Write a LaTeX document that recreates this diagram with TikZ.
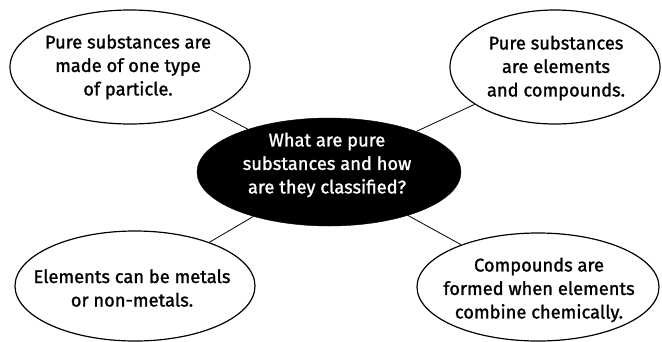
\documentclass[tikz,border=0pt]{standalone}
\usepackage{fontspec}
\setmainfont{Fira Sans}[FakeBold=1.3]
\newfontfamily\medfont{Fira Sans}[FakeBold=1.3]
\usetikzlibrary{shapes.geometric}
\begin{document}
\begin{tikzpicture}[x=1pt,y=-1pt,
  bubble/.style={ellipse,draw=black,line width=1.2pt,fill=white,inner sep=0pt},
  hub/.style={ellipse,fill=black,draw=black,inner sep=0pt},
  txt/.style={align=center,font=\medfont\fontsize{18.3}{23.5}\selectfont,inner sep=0pt},
  link/.style={draw=black,line width=0.8pt}]
\useasboundingbox (0,0) rectangle (662,341);
\node[hub,minimum width=264pt,minimum height=108pt] (c) at (329,172) {};
\node[bubble,minimum width=240pt,minimum height=114pt] (tl) at (130,67) {};
\node[bubble,minimum width=210pt,minimum height=114pt] (tr) at (555,67) {};
\node[bubble,minimum width=240pt,minimum height=110pt] (bl) at (135,286) {};
\node[bubble,minimum width=242pt,minimum height=108pt] (br) at (538,287) {};
\draw[link] (c) -- (tl);
\draw[link] (c) -- (tr);
\draw[link] (c) -- (bl);
\draw[link] (c) -- (br);
\node[txt,text=white] (ct) at (327,165) {What are pure\\substances and how\\are they classified?};
\node[txt] (tlt) at (128,67) {Pure substances are\\made of one type\\of particle.};
\node[txt] (trt) at (556,68) {Pure substances\\are elements\\and compounds.};
\node[txt] (blt) at (132,288) {Elements can be metals\\or non-metals.};
\node[txt] (brt) at (539,290) {Compounds are\\formed when elements\\combine chemically.};
\end{tikzpicture}
\end{document}
